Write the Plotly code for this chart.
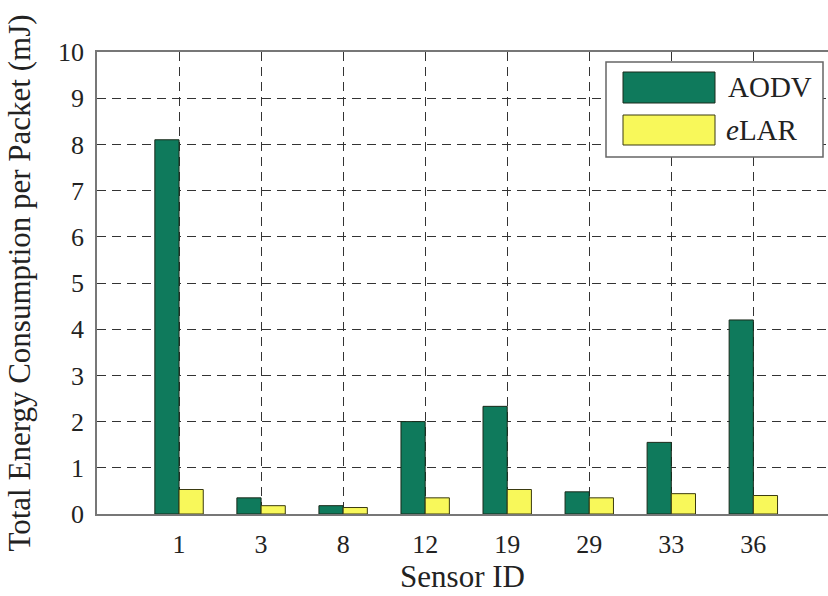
import plotly.graph_objects as go

sensor_ids = ["1", "3", "8", "12", "19", "29", "33", "36"]
aodv = [8.1, 0.35, 0.18, 2.0, 2.33, 0.48, 1.55, 4.2]
elar = [0.53, 0.18, 0.14, 0.35, 0.53, 0.35, 0.44, 0.40]
y_ticks = list(range(0, 11))

GREEN = "#0f7a5c"
YELLOW = "#f8f85a"
FONT = "Liberation Serif"

W, H = 828, 596
L, R, T, B = 97, 0, 52, 82

fig = go.Figure()
fig.add_trace(go.Bar(x=sensor_ids, y=aodv, name="AODV",
                     marker=dict(color=GREEN, line=dict(color="#1a2a1a", width=1)),
                     showlegend=False))
fig.add_trace(go.Bar(x=sensor_ids, y=elar, name="<i>e</i>LAR",
                     marker=dict(color=YELLOW, line=dict(color="#3a3a10", width=1)),
                     showlegend=False))

grid = dict(showgrid=True, gridcolor="#333333", gridwidth=1, griddash="9px,6px")
fig.update_xaxes(type="category", range=[-1, 7.91], **grid,
                 showline=True, linecolor="#777777", linewidth=1.5, mirror=True,
                 ticks="", ticklabelstandoff=6,
                 tickfont=dict(family=FONT, size=26, color="#222"),
                 title=dict(text="Sensor ID", font=dict(family=FONT, size=31, color="#222"), standoff=6))
fig.update_yaxes(range=[0, 10], tickvals=y_ticks, **grid,
                 showline=True, linecolor="#777777", linewidth=1.5, mirror=True,
                 ticks="outside", ticklen=6, tickcolor="white",
                 tickfont=dict(family=FONT, size=26, color="#222"),
                 title=dict(text="Total Energy Consumption per Packet (mJ)",
                            font=dict(family=FONT, size=31, color="#222"), standoff=18),
                 zeroline=False)

# custom legend (large swatches, as in the reference)
def px(xp):
    return (xp - L) / (W - L - R)
def py(yp):
    return (H - B - yp) / (H - T - B)

shapes = [
    dict(type="rect", xref="paper", yref="paper", x0=px(606), x1=px(823), y0=py(157), y1=py(62),
         line=dict(color="#666", width=1.5), fillcolor="white", layer="above"),
    dict(type="rect", xref="paper", yref="paper", x0=px(623), x1=px(715), y0=py(103), y1=py(72),
         line=dict(color="#1a2a1a", width=1), fillcolor=GREEN, layer="above"),
    dict(type="rect", xref="paper", yref="paper", x0=px(623), x1=px(715), y0=py(145), y1=py(115),
         line=dict(color="#3a3a10", width=1), fillcolor=YELLOW, layer="above"),
]
annotations = [
    dict(xref="paper", yref="paper", x=px(726), y=py(87), text="AODV", showarrow=False,
         xanchor="left", yanchor="middle", font=dict(family=FONT, size=29, color="#222")),
    dict(xref="paper", yref="paper", x=px(724), y=py(130), text="<i>e</i>LAR", showarrow=False,
         xanchor="left", yanchor="middle", font=dict(family=FONT, size=29, color="#222")),
]

fig.update_layout(
    width=W, height=H,
    margin=dict(l=L, r=R, t=T, b=B, autoexpand=False),
    paper_bgcolor="white", plot_bgcolor="white",
    barmode="group", bargap=0.41, bargroupgap=0,
    shapes=shapes, annotations=annotations,
)

fig.write_html("out.html")
